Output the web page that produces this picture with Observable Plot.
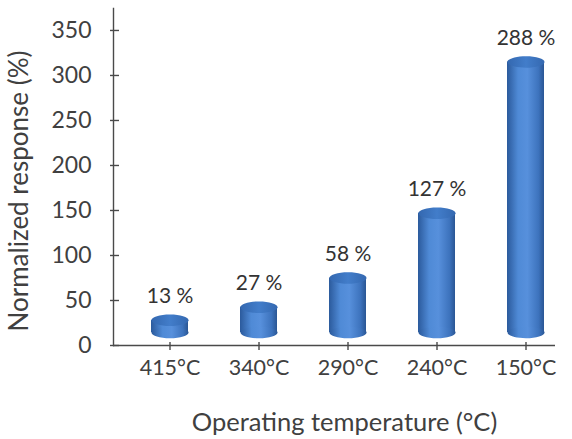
<!DOCTYPE html>
<html>
<head>
<meta charset="utf-8">
<script src="https://cdn.jsdelivr.net/npm/d3@7"></script>
<script src="https://cdn.jsdelivr.net/npm/@observablehq/plot@0.6"></script>
<style>
  html, body { margin: 0; padding: 0; background: #fff; }
  #chart svg { display: block; }
</style>
</head>
<body>
<div id="chart"></div>
<script>
// ---- data ----
const categories = ["415°C", "340°C", "290°C", "240°C", "150°C"];
const responses = [13, 27, 58, 127, 288];
const valueLabels = ["13 %", "27 %", "58 %", "127 %", "288 %"];
const yTicks = [0, 50, 100, 150, 200, 250, 300, 350];
const xTitle = "Operating temperature (°C)";
const yTitle = "Normalized response (%)";

// ellipse symbol for cylinder caps
const RX = 18.5, RY = 5.5, K = 0.5523;
const ellipse = {
  draw(ctx) {
    ctx.moveTo(RX, 0);
    ctx.bezierCurveTo(RX, RY * K, RX * K, RY, 0, RY);
    ctx.bezierCurveTo(-RX * K, RY, -RX, RY * K, -RX, 0);
    ctx.bezierCurveTo(-RX, -RY * K, -RX * K, -RY, 0, -RY);
    ctx.bezierCurveTo(RX * K, -RY, RX, -RY * K, RX, 0);
    ctx.closePath();
  }
};

const textColor = "#404040";
const axisColor = "#4a4a4a";
const font = "Lato, 'Open Sans', sans-serif";

const chart = Plot.plot({
  width: 572,
  height: 439,
  marginLeft: 113,
  marginRight: 17,
  marginTop: 8,
  marginBottom: 94,
  style: { fontFamily: font, background: "#fff", color: textColor },
  x: { domain: categories, range: [125.5, 570.5], paddingInner: 0.58, paddingOuter: 0.29, label: null },
  y: { domain: [0, 374.4], label: null },
  marks: [
    // axis lines
    Plot.ruleY([0], { stroke: axisColor, strokeWidth: 1.4 }),
    Plot.frame({ anchor: "left", stroke: axisColor, strokeWidth: 1.4 }),
    // crossing tick marks
    Plot.tickY(yTicks, { y: d => d, insetRight: 442 - 9, dx: -3, stroke: axisColor, strokeWidth: 1.4 }),
    Plot.tickX(categories, { x: d => d, insetTop: 337 - 8, dy: 5, stroke: axisColor, strokeWidth: 1.4 }),
    // tick labels
    Plot.axisY(yTicks, { tickSize: 0, tickPadding: 22, fontSize: 23, fill: textColor, label: null }),
    Plot.axisX({ tickSize: 0, tickPadding: 14, fontSize: 21.5, fill: textColor, label: null }),
    // cylinders
    Plot.barY(responses, { x: categories, y: responses, fill: "url(#cylBody)" }),
    Plot.dot(responses, { x: categories, y: 0, symbol: ellipse, fill: "url(#cylBody)", stroke: "none" }),
    Plot.dot(responses, { x: categories, y: responses, symbol: ellipse, fill: "url(#cylTop)", stroke: "none" }),
    Plot.text(responses, { x: categories, y: responses, text: valueLabels, dy: -23, fontSize: 21, fill: "#333" }),
    // titles
    Plot.text([xTitle], { frameAnchor: "bottom", dx: 10, dy: 77, fontSize: 25.5, fill: textColor, lineAnchor: "middle" }),
    Plot.text([yTitle], { frameAnchor: "left", dx: -94, dy: 14, rotate: -90, fontSize: 26, fill: textColor, textAnchor: "middle", lineAnchor: "middle" })
  ]
});

// gradients for the 3D cylinder look
const svg = d3.select(chart);
svg.insert("defs", ":first-child").html(`
  <linearGradient id="cylBody" x1="0" x2="1" y1="0" y2="0">
    <stop offset="0%" stop-color="#2b5a9c"/>
    <stop offset="30%" stop-color="#4f8ad6"/>
    <stop offset="55%" stop-color="#5790dc"/>
    <stop offset="85%" stop-color="#3d73bd"/>
    <stop offset="100%" stop-color="#2a5694"/>
  </linearGradient>
  <linearGradient id="cylTop" x1="0" x2="1" y1="0" y2="0">
    <stop offset="0%" stop-color="#3468b0"/>
    <stop offset="50%" stop-color="#427dca"/>
    <stop offset="100%" stop-color="#3468b0"/>
  </linearGradient>`);

// 3D perspective: cylinders stand in front of the axis wall (shifted up, slightly enlarged)
const k = 1.044, base = 345, front = 332;
svg.selectAll('g[aria-label="bar"], g[aria-label="dot"], g[aria-label="text"]')
  .filter(function () { return !this.closest('g[aria-label$="axis"]'); })
  .attr("transform", function () {
    const prev = this.getAttribute("transform") || "";
    return `matrix(1 0 0 ${k} 0 ${front - base * k}) ${prev}`;
  });
// titles keep their place
svg.selectAll('g[aria-label="text"]').each(function () {
  const t = this.textContent;
  if (t === xTitle || t === yTitle) {
    const prev = this.getAttribute("transform") || "";
    this.setAttribute("transform", prev.replace(/matrix\([^)]*\)\s*/, ""));
  }
});

document.getElementById("chart").appendChild(chart);
</script>
</body>
</html>
